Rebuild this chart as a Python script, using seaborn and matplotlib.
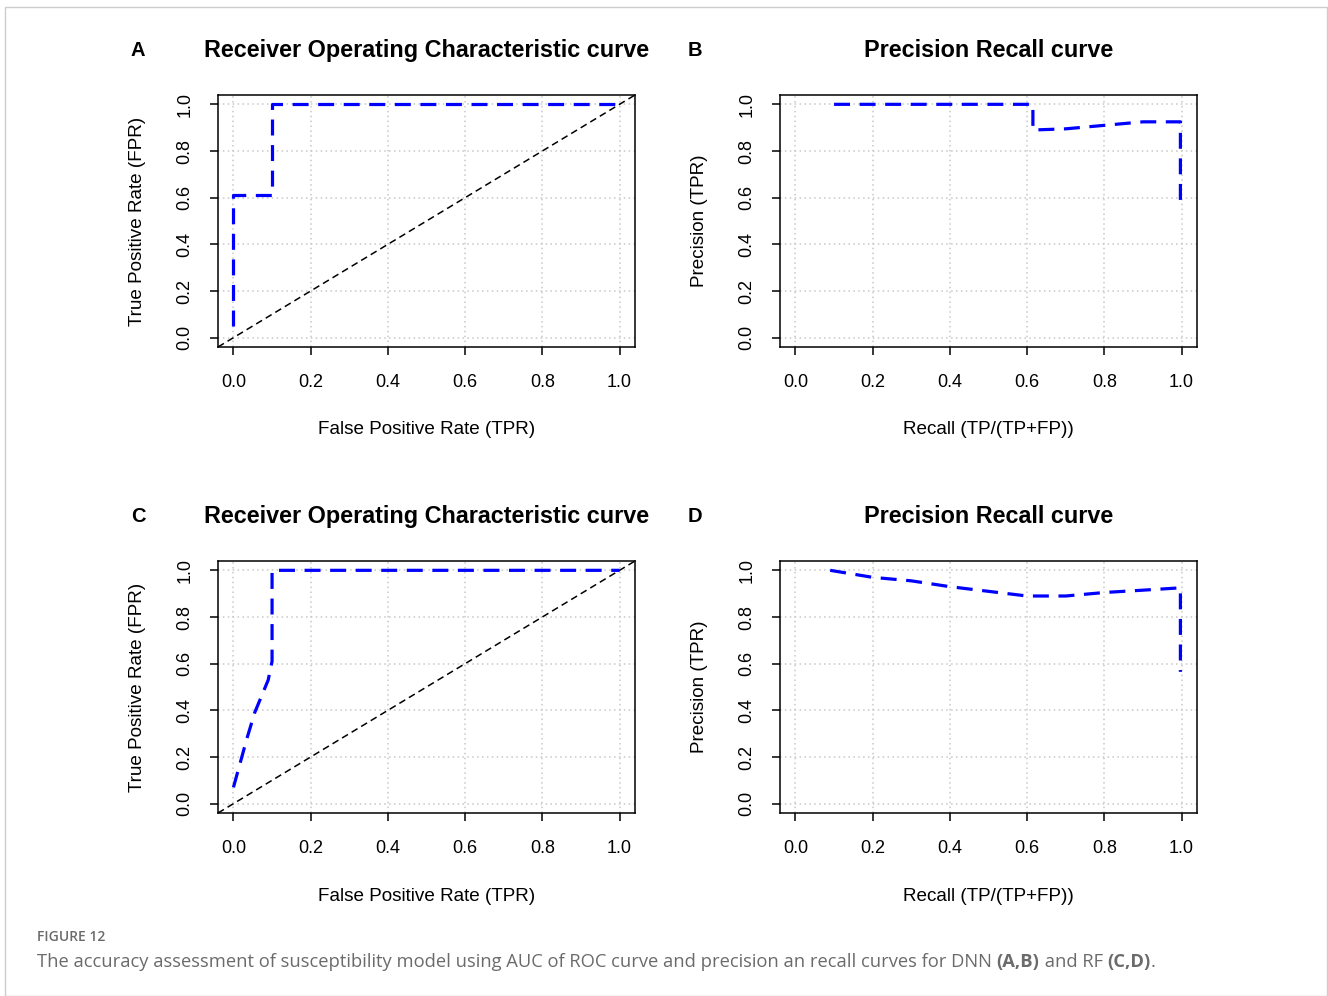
import matplotlib
matplotlib.use("Agg")
import matplotlib.pyplot as plt
import matplotlib.text as mtext
import seaborn as sns
import pandas as pd
from matplotlib.patches import Rectangle

# ---------------- data ----------------
ticks = [0.0, 0.2, 0.4, 0.6, 0.8, 1.0]
tick_labels = ["0.0", "0.2", "0.4", "0.6", "0.8", "1.0"]

# DNN ROC (A)
dnn_fpr = [0.0, 0.0, 0.10, 0.10, 1.0]
dnn_tpr = [0.05, 0.61, 0.61, 1.0, 1.0]
# DNN PR (B)
dnn_recall = [0.10, 0.615, 0.615, 0.70, 0.80, 0.90, 0.997, 0.997]
dnn_precision = [1.0, 1.0, 0.89, 0.895, 0.91, 0.925, 0.925, 0.56]
# RF ROC (C)
rf_fpr = [0.0, 0.01, 0.02, 0.035, 0.055, 0.075, 0.09, 0.10, 0.10, 1.0]
rf_tpr = [0.07, 0.13, 0.19, 0.28, 0.39, 0.47, 0.53, 0.61, 1.0, 1.0]
# RF PR (D)
rf_recall = [0.09, 0.2, 0.3, 0.4, 0.5, 0.6, 0.7, 0.8, 0.9, 0.997, 0.997]
rf_precision = [1.0, 0.97, 0.955, 0.93, 0.91, 0.89, 0.89, 0.905, 0.915, 0.925, 0.565]

diag = [-0.04, 1.04]

roc_title = "Receiver Operating Characteristic curve"
pr_title = "Precision Recall curve"
roc_xlabel = "False Positive Rate (TPR)"
roc_ylabel = "True Positive Rate (FPR)"
pr_xlabel = "Recall (TP/(TP+FP))"
pr_ylabel = "Precision (TPR)"

caption_head = "FIGURE 12"
caption_parts = [
    ("The accuracy assessment of susceptibility model using AUC of ROC curve and precision an recall curves for DNN ", "normal"),
    ("(A,B)", "bold"),
    (" and RF ", "normal"),
    ("(C,D)", "bold"),
    (".", "normal"),
]

# ---------------- style ----------------
sns.set_style("white")
plt.rcParams["font.family"] = ["Liberation Sans", "DejaVu Sans"]
plt.rcParams["text.color"] = "black"
plt.rcParams["axes.labelcolor"] = "black"
plt.rcParams["xtick.color"] = "black"
plt.rcParams["ytick.color"] = "black"

W, H = 1328, 996
fig = plt.figure(figsize=(W / 100, H / 100), dpi=100)


def fx(px):
    return px / W


def fy(py):
    return 1 - py / H


axw, axh = 417, 252
layout = {"A": (218, 347), "B": (780, 347), "C": (218, 813), "D": (780, 813)}

panels = [
    ("A", roc_title, roc_xlabel, roc_ylabel, dnn_fpr, dnn_tpr, True),
    ("B", pr_title, pr_xlabel, pr_ylabel, dnn_recall, dnn_precision, False),
    ("C", roc_title, roc_xlabel, roc_ylabel, rf_fpr, rf_tpr, True),
    ("D", pr_title, pr_xlabel, pr_ylabel, rf_recall, rf_precision, False),
]

for letter, title, xl, yl, xs, ys, roc in panels:
    left, bottom = layout[letter]
    ax = fig.add_axes([fx(left), fy(bottom), axw / W, axh / H])
    ax.set_xlim(-0.04, 1.04)
    ax.set_ylim(-0.04, 1.04)
    for t in ticks:
        ax.axvline(t, color="#c8c8c8", lw=1.1, ls=(0, (1, 2.2)), zorder=0)
        ax.axhline(t, color="#c8c8c8", lw=1.1, ls=(0, (1, 2.2)), zorder=0)
    if roc:
        sns.lineplot(x=diag, y=diag, ax=ax, color="black", lw=1.1,
                     sort=False, estimator=None)
        ax.lines[-1].set_dashes((4.5, 2.8))
    df = pd.DataFrame({"x": xs, "y": ys})
    sns.lineplot(data=df, x="x", y="y", ax=ax, color="#0000ff", lw=2.3,
                 sort=False, estimator=None)
    ax.lines[-1].set_dashes((5.0, 3.0))

    for s in ax.spines.values():
        s.set_visible(True)
        s.set_color("black")
        s.set_linewidth(1.1)

    ax.set_xticks(ticks)
    ax.set_yticks(ticks)
    ax.set_xticklabels(tick_labels, fontsize=13)
    ax.set_yticklabels(tick_labels, fontsize=13, rotation=90, va="center")
    ax.tick_params(axis="both", direction="out", length=5.5, width=1.1,
                   color="black", bottom=True, left=True)
    ax.tick_params(axis="x", pad=14)
    ax.tick_params(axis="y", pad=12)

    ax.set_xlabel(xl, fontsize=13.6)
    ax.set_ylabel(yl, fontsize=13.6)
    ax.xaxis.set_label_coords(0.5, -(430 - 347) / axh)
    ax.xaxis.label.set_verticalalignment("center")
    ylab_x = 138 if letter in "AC" else 699
    ax.yaxis.set_label_coords((ylab_x - left) / axw, 0.5)
    ax.yaxis.label.set_verticalalignment("center")

    ax.text(0.5, 1 + 45 / axh, title, transform=ax.transAxes, ha="center",
            va="center", fontsize=16.8, fontweight="bold")
    lx = 138 if letter in "AC" else 695
    ax.text((lx - left) / axw, 1 + 45 / axh, letter, transform=ax.transAxes,
            ha="center", va="center", fontsize=14.5, fontweight="bold")

# outer border
fig.patches.append(Rectangle((fx(5), 0), fx(1322), fy(7),
                             transform=fig.transFigure, fill=False,
                             edgecolor="#cccccc", lw=1.0))

# caption
cap_font = ["Open Sans", "DejaVu Sans"]
cap_color = "#6b6b6b"
fig.text(fx(37), fy(937), caption_head, fontsize=10, color=cap_color,
         family=cap_font, fontweight="semibold", va="center", ha="left")
anchor = fig.text(fx(37), fy(962), caption_parts[0][0], fontsize=13.2,
                  color=cap_color, family=cap_font,
                  fontweight=caption_parts[0][1], va="center", ha="left")
for txt, wt in caption_parts[1:]:
    anchor = fig.add_artist(mtext.Annotation(
        txt, xy=(1, 0.5), xycoords=anchor, va="center", ha="left",
        fontsize=13.2, color=cap_color, family=cap_font, fontweight=wt))

fig.savefig("out.png", dpi=100)
